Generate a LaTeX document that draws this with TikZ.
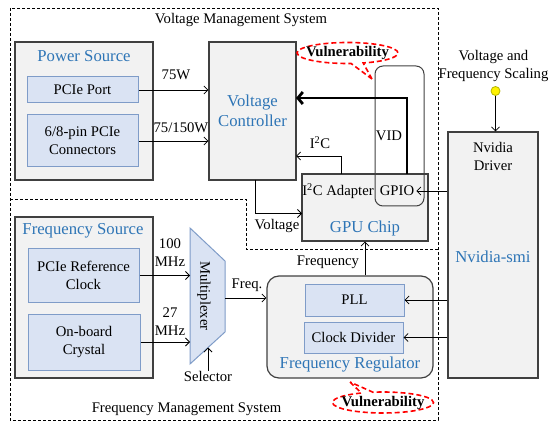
\documentclass[tikz,border=0pt]{standalone}
\usepackage{fontspec}
\setmainfont{Liberation Serif}
\usetikzlibrary{arrows.meta,shapes.callouts,shapes.geometric,calc}
\definecolor{tblue}{HTML}{2E75B6}
\definecolor{gfill}{HTML}{F2F2F2}
\definecolor{bfill}{HTML}{DAE3F3}
\definecolor{bedge}{HTML}{7F9CC8}
\definecolor{gedge}{HTML}{404040}
\definecolor{dotedge}{HTML}{B5B500}
\tikzset{
  txt/.style={font=\fontsize{14.7}{18}\selectfont, align=center, inner sep=0pt},
  ttl/.style={font=\fontsize{16.7}{20}\selectfont, text=tblue, align=center, inner sep=0pt},
  gbox/.style={draw=gedge, fill=gfill, line width=1.2pt, inner sep=0pt},
  bbox/.style={draw=bedge, fill=bfill, line width=1pt, inner sep=0pt, align=center, font=\fontsize{14.7}{18}\selectfont},
  arr/.style={-{Straight Barb[length=4pt,width=8pt]}, line width=0.8pt},
  tarr/.style={-{Straight Barb[length=5pt,width=12pt]}, line width=2.8pt},
  sys/.style={dash pattern=on 3pt off 2pt, line width=0.8pt},
  vcall/.style={ellipse callout, draw=red, dash pattern=on 5pt off 3pt, line width=1.6pt, fill=white, minimum width=101pt, minimum height=21pt, inner sep=0pt, callout pointer arc=14},
}
\begin{document}
\begin{tikzpicture}[x=1pt,y=-1pt]
\useasboundingbox (0,0) rectangle (549,422);

% system frames
\draw[sys] (10,8) rectangle (438,420);
\draw[sys] (10,199) -- (246,199) -- (246,249) -- (438,249);
\node[txt] (vms) at (241,20) {Voltage Management System};
\node[txt] (fms) at (186.5,409) {Frequency Management System};

% power source
\node[gbox, minimum width=138pt, minimum height=138pt] (ps) at (84,111) {};
\node[ttl] (pst) at (84,56) {Power Source};
\node[bbox, minimum width=111pt, minimum height=26pt] (pcie) at (82.5,90) {PCIe Port};
\node[bbox, minimum width=111pt, minimum height=52pt] (conn) at (82.5,141) {6/8-pin PCIe\\Connectors};

% voltage controller
\node[gbox, minimum width=87pt, minimum height=138pt, ttl] (vc) at (252.5,111) {Voltage\\Controller};

% GPU chip
\node[gbox, minimum width=126pt, minimum height=67pt] (gpu) at (365,207.5) {};
\node[txt] (i2c) at (338,191) {I\textsuperscript{2}C Adapter};
\node[txt, inner xsep=2pt] (gpio) at (397,191) {GPIO};
\node[ttl] (gput) at (365,228) {GPU Chip};
\node[draw=gedge, line width=1pt, rounded corners=8pt, minimum width=49pt, minimum height=140pt] (vid) at (399.5,136) {};
\node[txt] (vidt) at (389,136) {VID};

% driver
\node[gbox, minimum width=90pt, minimum height=246pt] (drv) at (493,255) {};
\node[txt] (drvt) at (493,156) {Nvidia\\Driver};
\node[ttl] (smi) at (493,257) {Nvidia-smi};
\node[txt] (dvfs) at (493.5,66) {Voltage and\\Frequency Scaling};
\node[circle, fill=yellow, draw=dotedge, line width=0.8pt, minimum size=9pt, inner sep=0pt] (dot) at (495.5,91) {};

% frequency source
\node[gbox, minimum width=138pt, minimum height=161pt] (fs) at (84,297.5) {};
\node[ttl] (fst) at (83,231) {Frequency Source};
\node[bbox, minimum width=111pt, minimum height=53pt] (pclk) at (83.5,275.5) {PCIe Reference\\Clock};
\node[bbox, minimum width=112pt, minimum height=56pt] (xtal) at (84,342) {On-board\\Crystal};

% multiplexer
\coordinate (muxL) at (190,296);
\coordinate (muxR) at (225,298);
\coordinate (muxB) at (208,347.5);
\draw[draw=bedge, fill=bfill, line width=1pt] (190,228) -- (225,261) -- (225,332) -- (190,364) -- cycle;
\node[txt, rotate=-90] (mux) at (204,296) {Multiplexer};
\node[txt] (sel) at (208,376) {Selector};

% frequency regulator
\node[gbox, rounded corners=12pt, minimum width=166pt, minimum height=102pt] (fr) at (350,327) {};
\node[bbox, minimum width=99pt, minimum height=32pt] (pll) at (354.5,300) {PLL};
\node[bbox, minimum width=99pt, minimum height=31pt] (cdiv) at (353.5,337.5) {Clock Divider};
\node[ttl] (frt) at (350,365) {Frequency Regulator};

% connectors
\draw[arr] (pcie.east) -- (pcie.east -| vc.west);
\node[txt] (l75) at (176,75) {75W};
\draw[arr] (conn.east) -- (conn.east -| vc.west);
\node[txt] (l150) at (181,128) {75/150W};

\coordinate (gpioTop) at (407,174);
\coordinate (vcVid) at (296,98);
\draw[tarr] (gpioTop) |- (vcVid);

\coordinate (i2cTop) at (341,174);
\coordinate (vcI2c) at (296,156);
\draw[arr] (i2cTop) |- (vcI2c);
\node[txt] (li2c) at (320,143) {I\textsuperscript{2}C};

\coordinate (vcBot) at (255,180);
\coordinate (gpuV) at (302,213.5);
\draw[arr] (vcBot) |- (gpuV);
\node[txt] (lvol) at (277,226) {Voltage};

\draw[arr] (drv.west |- gpio) -- (gpio.east);
\draw[arr] (dot) -- (dot |- drv.north);

\draw[arr] (pclk.east) -- (pclk.east -| muxL);
\node[txt] (l100) at (170,252.5) {100\\MHz};
\draw[arr] (xtal.east) -- (xtal.east -| muxL);
\node[txt] (l27) at (170,321.5) {27\\MHz};
\draw[arr] (sel.north) -- (muxB);
\draw[arr] (muxR) -- (muxR -| fr.west);
\node[txt] (lfq) at (247,285) {Freq.};

\draw[arr] (gpu.south |- fr.north) -- (gpu.south);
\node[txt] (lfreq) at (328,262) {Frequency};

\draw[arr] (drv.west |- pll) -- (pll.east);
\draw[arr] (drv.west |- cdiv) -- (cdiv.east);

% vulnerability callouts
\node[vcall, callout absolute pointer={(372,79)}] (vul1) at (347.5,53) {};
\node[txt, font=\fontsize{14.7}{18}\selectfont\bfseries] (vul1t) at (vul1) {Vulnerability};
\node[vcall, callout absolute pointer={(350,382)}] (vul2) at (383,402.5) {};
\node[txt, font=\fontsize{14.7}{18}\selectfont\bfseries] (vul2t) at (vul2) {Vulnerability};
\end{tikzpicture}
\end{document}
